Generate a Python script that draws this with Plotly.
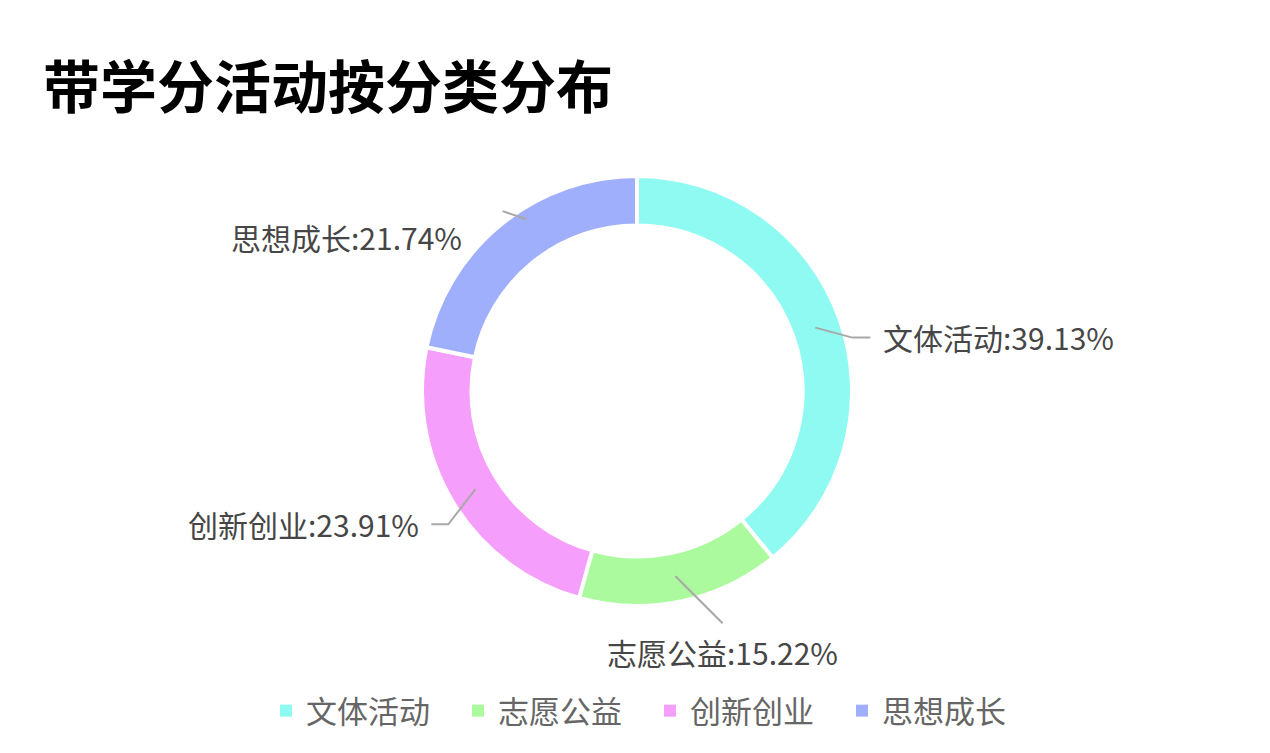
import math
import plotly.graph_objects as go

# ---- data ----
categories = ["文体活动", "志愿公益", "创新创业", "思想成长"]
counts = [18, 7, 11, 10]
colors = ["#8EFAF2", "#ACFA9E", "#F69EFB", "#A0AFFC"]
title_text = "带学分活动按分类分布"

# ---- geometry (pixels, in the screenshot frame) ----
W, H = 1270, 753
OFF = 8  # default page body margin
CX, CY = 637, 391
R = 215
HOLE = 0.77
FONT = "Noto Sans CJK SC, Noto Sans, sans-serif"


def px(x):
    return (x - OFF) / W


def py(y):
    return 1 - (y - OFF) / H


fig = go.Figure()
fig.add_trace(go.Pie(
    labels=categories,
    values=counts,
    hole=HOLE,
    sort=False,
    direction="clockwise",
    rotation=0,
    textinfo="none",
    hoverinfo="label+percent",
    showlegend=False,
    marker=dict(colors=colors, line=dict(color="white", width=4)),
    domain=dict(x=[px(CX - R), px(CX + R)], y=[py(CY + R), py(CY - R)]),
))

# legend entries (square swatches)
for cat, col in zip(categories, colors):
    fig.add_trace(go.Scatter(
        x=[None], y=[None], mode="markers", name=cat,
        marker=dict(symbol="square", size=12, color=col),
        showlegend=True, hoverinfo="skip",
    ))

# leader line layout per slice: offsets (px) from the slice mid-point on the ring
line_offsets = [
    [(0, 0), (37, 10), (55, 10)],
    [(0, 0), (47, 47)],
    [(0, 0), (-27, 35), (-44, 35)],
    [(9, -25), (-15, -33)],
]
label_offsets = [(66, 9, "left"), (47, 76, "center"), (-54, 35, "right"), (-54, -7, "right")]

total = sum(counts)
r_mid = R * (1 + HOLE) / 2 - 1
cum = 0
shapes = []
annotations = []
for i, (cat, v) in enumerate(zip(categories, counts)):
    mid = (cum + v / 2) / total
    cum += v
    th = 2 * math.pi * mid
    sx = CX + r_mid * math.sin(th)
    sy = CY - r_mid * math.cos(th)
    pts = [(sx + dx, sy + dy) for dx, dy in line_offsets[i]]
    path = "M" + " L".join(f"{px(x):.5f},{py(y):.5f}" for x, y in pts)
    shapes.append(dict(type="path", path=path, xref="paper", yref="paper",
                       line=dict(color="#A8A8A8", width=2)))
    lx, ly, anchor = label_offsets[i]
    pct = v / total * 100
    annotations.append(dict(
        x=px(sx + lx), y=py(sy + ly), xref="paper", yref="paper",
        text=f"{cat}:{pct:.2f}%", showarrow=False,
        xanchor=anchor, yanchor="middle",
        font=dict(family=FONT, size=30, color="#464646"),
    ))

annotations.append(dict(
    x=px(41), y=py(83), xref="paper", yref="paper", text=f"<b>{title_text}</b>",
    showarrow=False, xanchor="left", yanchor="middle",
    font=dict(family=FONT, size=57, color="#000000"),
))

fig.update_layout(
    width=W, height=H,
    margin=dict(l=0, r=0, t=0, b=0),
    paper_bgcolor="white",
    plot_bgcolor="white",
    xaxis=dict(visible=False),
    yaxis=dict(visible=False),
    shapes=shapes,
    annotations=annotations,
    showlegend=True,
    legend=dict(
        orientation="h", x=px(650), xanchor="center", y=py(711), yanchor="middle",
        font=dict(family=FONT, size=31, color="#666666"),
        itemwidth=30, entrywidth=147, entrywidthmode="pixels",
    ),
)

fig.write_html("out.html")
